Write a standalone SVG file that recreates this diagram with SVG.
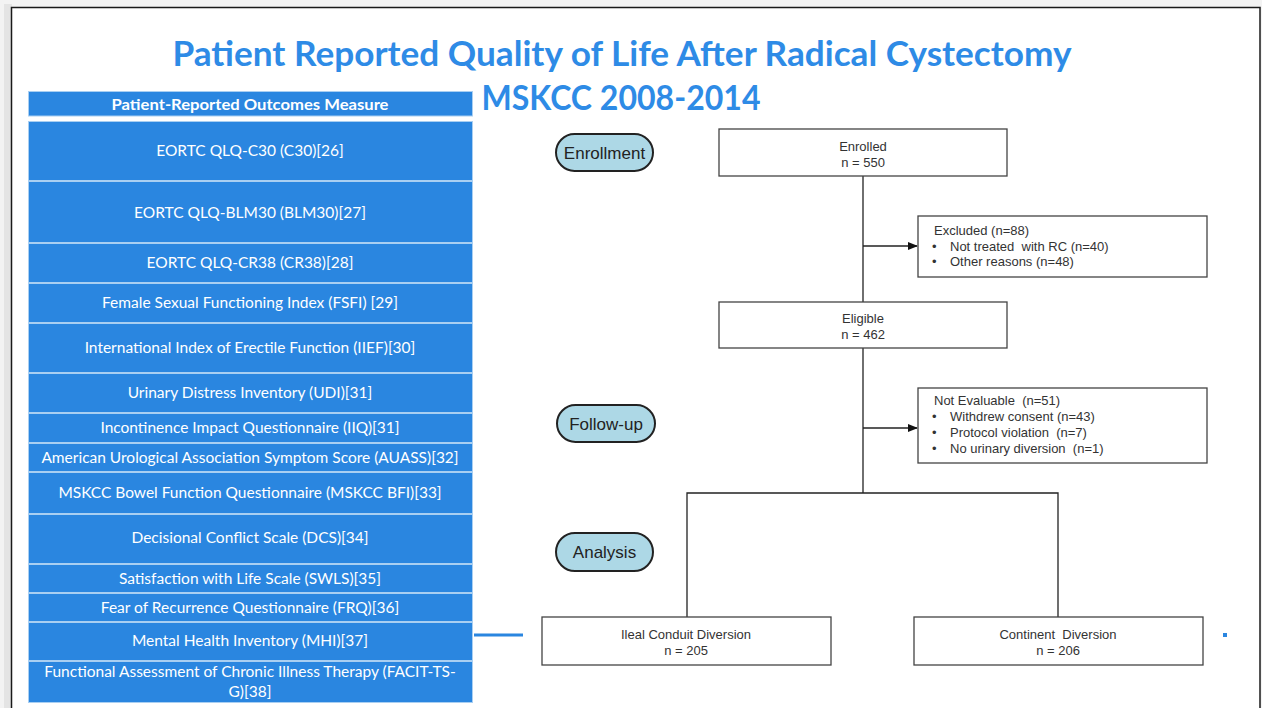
<svg xmlns="http://www.w3.org/2000/svg" width="1262" height="708" viewBox="0 0 1262 708">
<defs>
<style>
.title{font-family:Lato,"Open Sans","Liberation Sans",sans-serif;font-weight:bold;font-size:34px;fill:#2e8be6;text-anchor:middle}
.row{fill:#2a86e0;stroke:#a9cff2;stroke-width:1}
.rt{font-family:Lato,"Open Sans","Liberation Sans",sans-serif;font-size:15.5px;fill:#ffffff;text-anchor:middle}
.box{fill:#ffffff;stroke:#444444;stroke-width:1.3}
.bt{font-family:"Liberation Sans",Arial,sans-serif;font-size:13px;fill:#333333}
.c{text-anchor:middle}
.oval{fill:#add8e6;stroke:#222222;stroke-width:2}
.ot{font-family:"Liberation Sans",Arial,sans-serif;font-size:17px;fill:#222222;text-anchor:middle}
.ln{stroke:#222222;stroke-width:1.3;fill:none}
</style>
<marker id="arr" markerWidth="10" markerHeight="8" refX="9" refY="4" orient="auto" markerUnits="userSpaceOnUse">
<path d="M0,0 L10,4 L0,8 Z" fill="#111111"/>
</marker>
</defs>
<rect x="0" y="0" width="1262" height="708" fill="#f3f3f3"/>
<rect x="4" y="4" width="8" height="704" fill="#e4e4e4"/>
<rect x="11.5" y="7.5" width="1248.5" height="710" fill="#ffffff" stroke="#1a1a1a" stroke-width="1.5"/>
<g id="title">
<text class="title" x="622" y="66" textLength="899" lengthAdjust="spacingAndGlyphs">Patient Reported Quality of Life After Radical Cystectomy</text>
<text class="title" x="621" y="110" textLength="279" lengthAdjust="spacingAndGlyphs">MSKCC 2008-2014</text>
</g>
<g id="table">
<rect class="row" x="28.5" y="91.5" width="444" height="24.5"/>
<text class="rt" x="250" y="110" font-weight="bold" font-size="16.5" textLength="277" lengthAdjust="spacingAndGlyphs">Patient-Reported Outcomes Measure</text>
<rect class="row" x="28.5" y="121.5" width="444" height="59"/>
<text class="rt" x="250" y="156">EORTC QLQ-C30 (C30)[26]</text>
<rect class="row" x="28.5" y="181.5" width="444" height="61"/>
<text class="rt" x="250" y="218">EORTC QLQ-BLM30  (BLM30)[27]</text>
<rect class="row" x="28.5" y="243.5" width="444" height="39"/>
<text class="rt" x="250" y="268">EORTC QLQ-CR38 (CR38)[28]</text>
<rect class="row" x="28.5" y="283.5" width="444" height="39"/>
<text class="rt" x="250" y="308">Female Sexual Functioning Index (FSFI) [29]</text>
<rect class="row" x="28.5" y="323.5" width="444" height="49"/>
<text class="rt" x="250" y="353">International Index of Erectile Function (IIEF)[30]</text>
<rect class="row" x="28.5" y="373.5" width="444" height="39"/>
<text class="rt" x="250" y="398">Urinary Distress Inventory (UDI)[31]</text>
<rect class="row" x="28.5" y="413.5" width="444" height="29"/>
<text class="rt" x="250" y="433">Incontinence Impact Questionnaire (IIQ)[31]</text>
<rect class="row" x="28.5" y="443.5" width="444" height="28"/>
<text class="rt" x="250" y="463">American Urological Association Symptom Score (AUASS)[32]</text>
<rect class="row" x="28.5" y="472.5" width="444" height="41"/>
<text class="rt" x="250" y="498">MSKCC Bowel Function Questionnaire (MSKCC BFI)[33]</text>
<rect class="row" x="28.5" y="514.5" width="444" height="49"/>
<text class="rt" x="250" y="543">Decisional Conflict Scale (DCS)[34]</text>
<rect class="row" x="28.5" y="564.5" width="444" height="28"/>
<text class="rt" x="250" y="584">Satisfaction with Life Scale  (SWLS)[35]</text>
<rect class="row" x="28.5" y="593.5" width="444" height="28"/>
<text class="rt" x="250" y="613">Fear of Recurrence Questionnaire (FRQ)[36]</text>
<rect class="row" x="28.5" y="622.5" width="444" height="38"/>
<text class="rt" x="250" y="646">Mental Health Inventory (MHI)[37]</text>
<rect class="row" x="28.5" y="661.5" width="444" height="41"/>
<text class="rt" x="250" y="677">Functional Assessment of Chronic Illness Therapy (FACIT-TS-</text>
<text class="rt" x="250" y="697">G)[38]</text>
</g>
<g id="connectors">
<line class="ln" x1="863" y1="176" x2="863" y2="302"/>
<line class="ln" x1="863" y1="246" x2="917" y2="246" marker-end="url(#arr)"/>
<line class="ln" x1="863" y1="348" x2="863" y2="493"/>
<line class="ln" x1="863" y1="428" x2="917" y2="428" marker-end="url(#arr)"/>
<polyline class="ln" points="687,617 687,493 1058,493 1058,617"/>
</g>
<g id="enrollment-label">
<rect class="oval" x="556" y="134" width="97" height="37" rx="18.5"/>
<text class="ot" x="604.5" y="159">Enrollment</text>
</g>
<g id="followup-label">
<rect class="oval" x="557" y="405" width="98" height="37" rx="18.5"/>
<text class="ot" x="606" y="430">Follow-up</text>
</g>
<g id="analysis-label">
<rect class="oval" x="556" y="533" width="97" height="38" rx="19"/>
<text class="ot" x="604.5" y="558">Analysis</text>
</g>
<g id="enrolled">
<rect class="box" x="719" y="129" width="288" height="47"/>
<text class="bt c" x="863" y="151">Enrolled</text>
<text class="bt c" x="863" y="167">n = 550</text>
</g>
<g id="excluded">
<rect class="box" x="918" y="216" width="289" height="61"/>
<text class="bt" x="934" y="235">Excluded (n=88)</text>
<text class="bt" x="932" y="251">•</text>
<text class="bt" x="950" y="251" xml:space="preserve">Not treated  with RC (n=40)</text>
<text class="bt" x="932" y="266">•</text>
<text class="bt" x="950" y="266">Other reasons (n=48)</text>
</g>
<g id="eligible">
<rect class="box" x="719" y="302" width="288" height="46"/>
<text class="bt c" x="863" y="323">Eligible</text>
<text class="bt c" x="863" y="339">n = 462</text>
</g>
<g id="not-evaluable">
<rect class="box" x="918" y="388" width="289" height="75"/>
<text class="bt" x="934" y="405" xml:space="preserve">Not Evaluable  (n=51)</text>
<text class="bt" x="932" y="421">•</text>
<text class="bt" x="950" y="421">Withdrew consent (n=43)</text>
<text class="bt" x="932" y="437">•</text>
<text class="bt" x="950" y="437" xml:space="preserve">Protocol violation  (n=7)</text>
<text class="bt" x="932" y="453">•</text>
<text class="bt" x="950" y="453" xml:space="preserve">No urinary diversion  (n=1)</text>
</g>
<g id="ileal">
<rect class="box" x="542" y="617" width="289" height="48"/>
<text class="bt c" x="686" y="639">Ileal Conduit Diversion</text>
<text class="bt c" x="686" y="655">n = 205</text>
</g>
<g id="continent">
<rect class="box" x="914" y="617" width="289" height="48"/>
<text class="bt c" x="1058" y="639" xml:space="preserve">Continent  Diversion</text>
<text class="bt c" x="1058" y="655">n = 206</text>
</g>
<g id="blue-marks">
<rect x="474" y="633.5" width="49" height="3" fill="#2a86e0"/>
<rect x="1223" y="633" width="4" height="4" fill="#2a86e0"/>
</g>
</svg>
